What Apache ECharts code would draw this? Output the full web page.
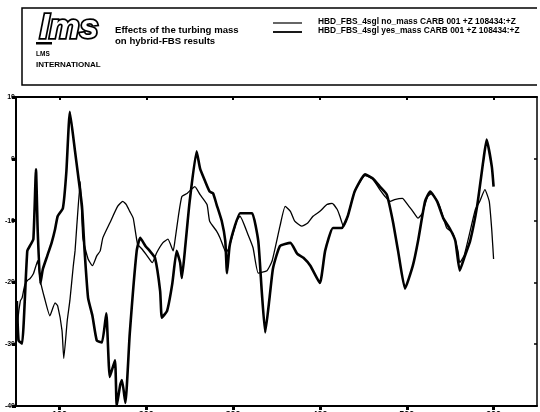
<!DOCTYPE html>
<html>
<head>
<meta charset="utf-8">
<script src="https://cdn.jsdelivr.net/npm/echarts@6/dist/echarts.min.js"></script>
<style>
  html, body { margin: 0; padding: 0; background: #fff; }
  #chart { width: 540px; height: 412px; }
</style>
</head>
<body>
<div id="chart"></div>
<script>
// Frequency response, no turbine mass vs. with turbine mass (Hz, dB)
const seriesNames = [
  'HBD_FBS_4sgl no_mass CARB 001 +Z 108434:+Z',
  'HBD_FBS_4sgl yes_mass CARB 001 +Z 108434:+Z'
];

const noMassFreq = [51,52,55,57,60,63,66,70,73,75,78,83,89,95,98,103,105,109,112,116,118,120,124,127,133,138,143,147,150,158,167,173,177,181,185,190,195,201,207,212,219,225,231,233,237,241,247,253,256,262,270,273,281,285,292,296,304,308,317,323,329,339,345,354,360,366,371,379,386,392,400,408,414,420,423,427,432,440,452,461,469,475,481,486,495,501,507,513,518,524,529,538,546,553,559,561,566,573,579,584,590,595,598,600];
const noMassDb   = [-29.4,-26.2,-23.0,-22.5,-20.5,-19.7,-19.4,-18.6,-17.3,-16.5,-19.7,-22.6,-25.4,-23.3,-23.8,-27.8,-32.3,-26.2,-23.0,-17.3,-14.9,-10.9,-3.7,-12.8,-16.2,-17.3,-15.7,-14.9,-12.8,-10.4,-7.7,-6.9,-7.4,-8.5,-9.6,-13.8,-14.6,-15.7,-16.8,-15.2,-13.6,-13.0,-14.9,-13.3,-9.3,-6.1,-5.6,-4.8,-4.5,-5.8,-7.4,-10.1,-11.7,-12.8,-15.2,-14.1,-10.1,-9.3,-12.2,-14.4,-18.5,-18.1,-16.5,-10.9,-7.7,-8.5,-10.1,-10.9,-10.4,-9.3,-8.5,-7.4,-7.2,-8.2,-9.3,-10.9,-9.3,-5.3,-2.7,-3.3,-5.0,-6.1,-6.9,-6.6,-6.4,-7.4,-8.5,-9.6,-8.8,-6.1,-5.6,-7.7,-11.2,-12.0,-14.9,-16.8,-15.7,-11.7,-8.2,-6.9,-5.0,-6.9,-11.7,-16.2];

const yesMassFreq = [51,53,57,59,63,66,70,73,75,78,81,86,91,95,98,104,108,112,118,121,126,129,133,138,143,149,154,158,164,166,170,172,176,181,189,193,199,204,210,216,218,224,230,235,239,241,245,250,258,262,268,273,277,281,287,291,293,296,302,308,315,322,329,333,337,342,346,354,366,374,381,389,400,406,415,425,432,440,452,461,469,477,484,490,498,507,513,521,527,535,542,550,556,561,567,573,581,588,592,598,600];
const yesMassDb   = [-23.0,-29.4,-29.9,-26.2,-14.9,-14.1,-13.0,-1.7,-11.7,-20.2,-17.8,-15.7,-13.6,-11.4,-9.3,-8.0,-2.1,7.6,1.2,-2.1,-7.7,-14.9,-22.5,-25.4,-29.4,-29.7,-25.0,-35.3,-32.6,-40.0,-36.6,-35.8,-39.5,-28.3,-14.9,-12.8,-14.1,-14.9,-16.0,-21.4,-25.7,-24.6,-20.2,-14.9,-16.8,-19.3,-14.1,-6.9,1.2,-1.6,-3.7,-5.3,-5.6,-7.4,-10.1,-13.3,-18.5,-14.1,-10.9,-8.8,-8.8,-8.8,-13.3,-21.4,-28.1,-22.5,-17.7,-14.1,-13.6,-15.4,-16.0,-17.3,-20.1,-14.9,-11.2,-11.2,-9.3,-5.3,-2.5,-3.2,-4.5,-5.8,-10.1,-14.9,-21.0,-17.3,-13.3,-6.9,-5.3,-6.9,-9.6,-11.4,-13.3,-18.1,-15.7,-13.3,-7.7,-0.5,3.1,-1.3,-4.5];

const freqTicks = [100, 200, 300, 400, 500, 600];
const dbTicks = [10, 0, -10, -20, -30, -40];

const titleLines = ['Effects of the turbing mass', 'on hybrid-FBS results'];

const lineWidths = [1.3, 2.6];

function zip(xs, ys) { return xs.map((x, i) => [x, ys[i]]); }

const ink = '#000';
const font = 'Liberation Sans';

const chart = echarts.init(document.getElementById('chart'), null, { renderer: 'canvas' });

// key: short line sample followed by the run name
const keyItems = seriesNames.flatMap((name, i) => {
  const y = 23 + i * 9;
  return [
    { type: 'line', shape: { x1: 273, y1: y, x2: 302, y2: y }, style: { stroke: ink, lineWidth: i === 0 ? 1.2 : 1.8 } },
    { type: 'text', left: 318, top: y - 5, style: { text: name, font: 'bold 8.4px "Liberation Sans"', fill: ink } }
  ];
});

chart.setOption({
  animation: false,
  backgroundColor: '#fff',
  textStyle: { fontFamily: font },
  grid: { left: 16, right: 3, top: 97, bottom: 6, containLabel: false, outerBoundsMode: 'none' },
  xAxis: [{
    type: 'value', min: 50, max: 650, position: 'bottom',
    axisLine: { show: true, onZero: false, lineStyle: { color: ink, width: 2 } },
    axisTick: { show: true, inside: false, length: 4, customValues: freqTicks, lineStyle: { color: ink, width: 3 } },
    axisLabel: { show: true, customValues: freqTicks, margin: 4, fontSize: 9, fontWeight: 'bold', color: ink },
    splitLine: { show: false }
  }, {
    type: 'value', min: 50, max: 650, position: 'top',
    axisLine: { show: true, onZero: false, lineStyle: { color: ink, width: 2 } },
    axisTick: { show: true, inside: true, length: 3, customValues: freqTicks, lineStyle: { color: ink, width: 2 } },
    axisLabel: { show: false },
    splitLine: { show: false }
  }],
  yAxis: [{
    type: 'value', min: -40, max: 10, interval: 10, position: 'left',
    axisLine: { show: true, onZero: false, lineStyle: { color: ink, width: 2 } },
    axisTick: { show: true, inside: false, length: 4, lineStyle: { color: ink, width: 3 } },
    axisLabel: {
      show: true, margin: 1, fontSize: 7, fontWeight: 'bold', color: ink,
      formatter: v => dbTicks.includes(v) ? String(v) : ''
    },
    splitLine: { show: false }
  }, {
    type: 'value', min: -40, max: 10, interval: 10, position: 'right',
    axisLine: { show: true, onZero: false, lineStyle: { color: ink, width: 1.5 } },
    axisTick: { show: true, inside: true, length: 3, lineStyle: { color: ink, width: 1.5 } },
    axisLabel: { show: false },
    splitLine: { show: false }
  }],
  series: [{
    name: seriesNames[0],
    type: 'line',
    data: zip(noMassFreq, noMassDb),
    symbol: 'none',
    smooth: 0.15,
    lineStyle: { color: ink, width: lineWidths[0] },
    itemStyle: { color: ink },
    z: 2
  }, {
    name: seriesNames[1],
    type: 'line',
    data: zip(yesMassFreq, yesMassDb),
    symbol: 'none',
    smooth: 0.15,
    lineStyle: { color: ink, width: lineWidths[1] },
    itemStyle: { color: ink },
    z: 3
  }],
  graphic: [
    // header frame
    { type: 'polyline', shape: { points: [[537, 8], [22, 8], [22, 85], [537, 85]] }, style: { stroke: ink, lineWidth: 1.5, fill: null } },
    // logo
    { type: 'text', left: 38, top: 10, style: { text: 'lms', font: 'italic bold 34px "Liberation Sans"', fill: '#fff', stroke: ink, lineWidth: 3.5 } },
    { type: 'rect', shape: { x: 36, y: 42, width: 16, height: 2.5 }, style: { fill: ink } },
    { type: 'text', left: 36, top: 51, style: { text: 'LMS', font: 'bold 6.5px "Liberation Sans"', fill: ink } },
    { type: 'text', left: 36, top: 61, style: { text: 'INTERNATIONAL', font: 'bold 8px "Liberation Sans"', fill: ink } },
    // title
    { type: 'text', left: 115, top: 25, style: { text: titleLines[0], font: 'bold 9.6px "Liberation Sans"', fill: ink } },
    { type: 'text', left: 115, top: 36, style: { text: titleLines[1], font: 'bold 9.6px "Liberation Sans"', fill: ink } },
    ...keyItems
  ]
});
</script>
</body>
</html>
